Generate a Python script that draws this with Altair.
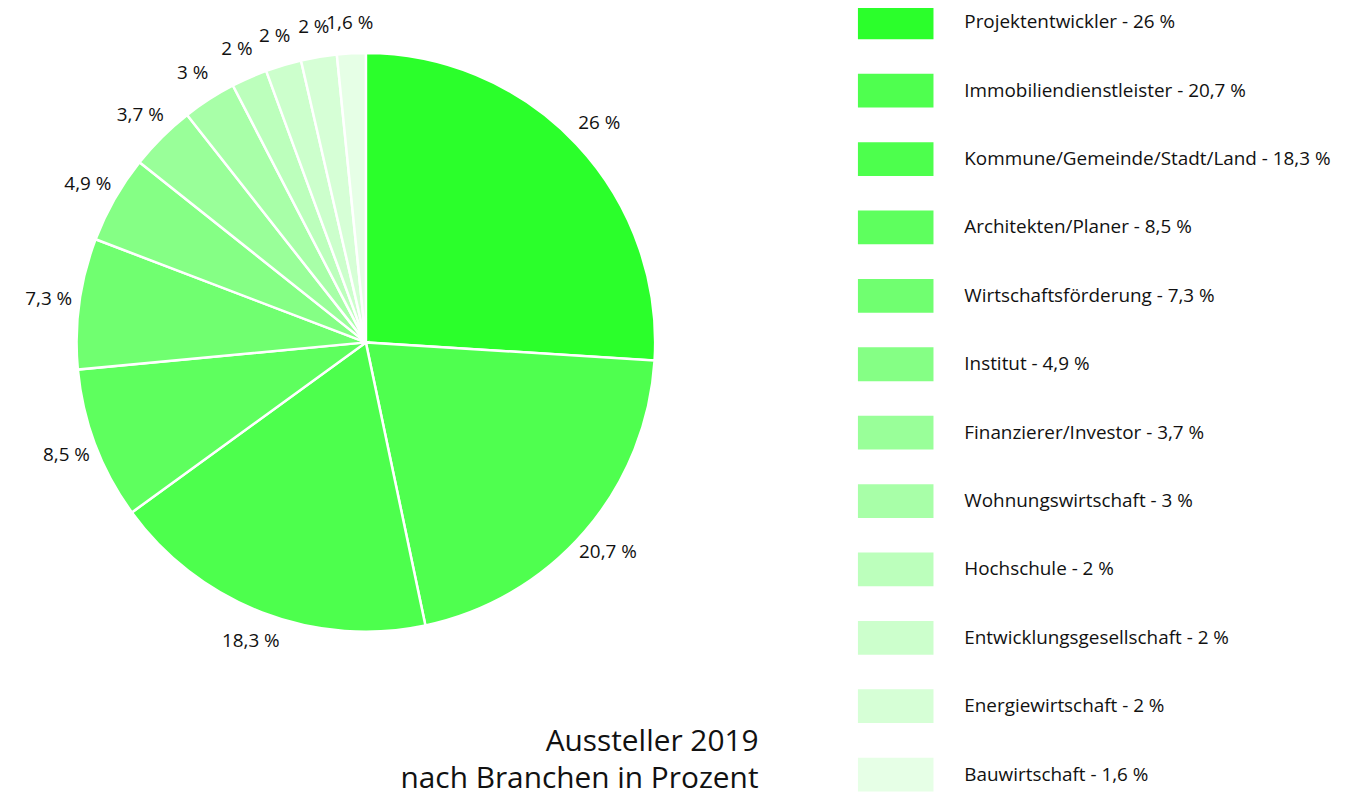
import altair as alt
import pandas as pd

names = ["Projektentwickler", "Immobiliendienstleister", "Kommune/Gemeinde/Stadt/Land",
         "Architekten/Planer", "Wirtschaftsförderung", "Institut", "Finanzierer/Investor",
         "Wohnungswirtschaft", "Hochschule", "Entwicklungsgesellschaft", "Energiewirtschaft",
         "Bauwirtschaft"]
values = [26, 20.7, 18.3, 8.5, 7.3, 4.9, 3.7, 3, 2, 2, 2, 1.6]
value_labels = ["26 %", "20,7 %", "18,3 %", "8,5 %", "7,3 %", "4,9 %", "3,7 %", "3 %",
                "2 %", "2 %", "2 %", "1,6 %"]
colors = ["#2bff2b", "#4fff4f", "#4dff4d", "#5eff5e", "#70ff70", "#85ff85", "#99ff99",
          "#a8ffa8", "#bcffbc", "#ccffcc", "#d6ffd6", "#e6ffe6"]
title_lines = ["Aussteller 2019", "nach Branchen in Prozent"]

legend_labels = [f"{n} - {l}" for n, l in zip(names, value_labels)]
df = pd.DataFrame({
    "idx": list(range(len(names))),
    "name": legend_labels,
    "value": values,
    "label": value_labels,
})

FONT = "Open Sans"

base = alt.Chart(df).encode(
    theta=alt.Theta("value:Q", stack=True),
    order=alt.Order("idx:Q"),
)

pie = base.mark_arc(radius=291, stroke="white", strokeWidth=2.5).encode(
    color=alt.Color(
        "name:N",
        scale=alt.Scale(domain=legend_labels, range=colors),
        sort=legend_labels,
        legend=alt.Legend(
            title=None,
            orient="none",
            legendX=855,
            legendY=-26,
            symbolType="M-1,-0.447L1,-0.447L1,0.447L-1,0.447Z",
            symbolSize=5776,
            symbolStrokeWidth=0,
            labelFont=FONT,
            labelFontSize=19,
            labelColor="#111111",
            labelOffset=31,
            rowPadding=13.8,
            labelLimit=500,
        ),
    ),
)

text = base.mark_text(radius=322, font=FONT, fontSize=19, color="#111111").encode(
    text="label:N"
)

chart = alt.layer(pie, text).properties(
    width=720,
    height=668,
    autosize=alt.AutoSizeParams(type="none"),
    padding={"left": 0, "top": 0, "right": 630, "bottom": 130},
    title=alt.TitleParams(
        text=title_lines,
        orient="bottom",
        anchor="end",
        frame="group",
        fontSize=30,
        font=FONT,
        fontWeight="normal",
        lineHeight=37,
        offset=55,
        dx=35,
        dy=-120,
        color="#111111",
    ),
).configure_view(stroke=None)

chart.save("out.html", embed_options={"renderer": "svg", "actions": False})
